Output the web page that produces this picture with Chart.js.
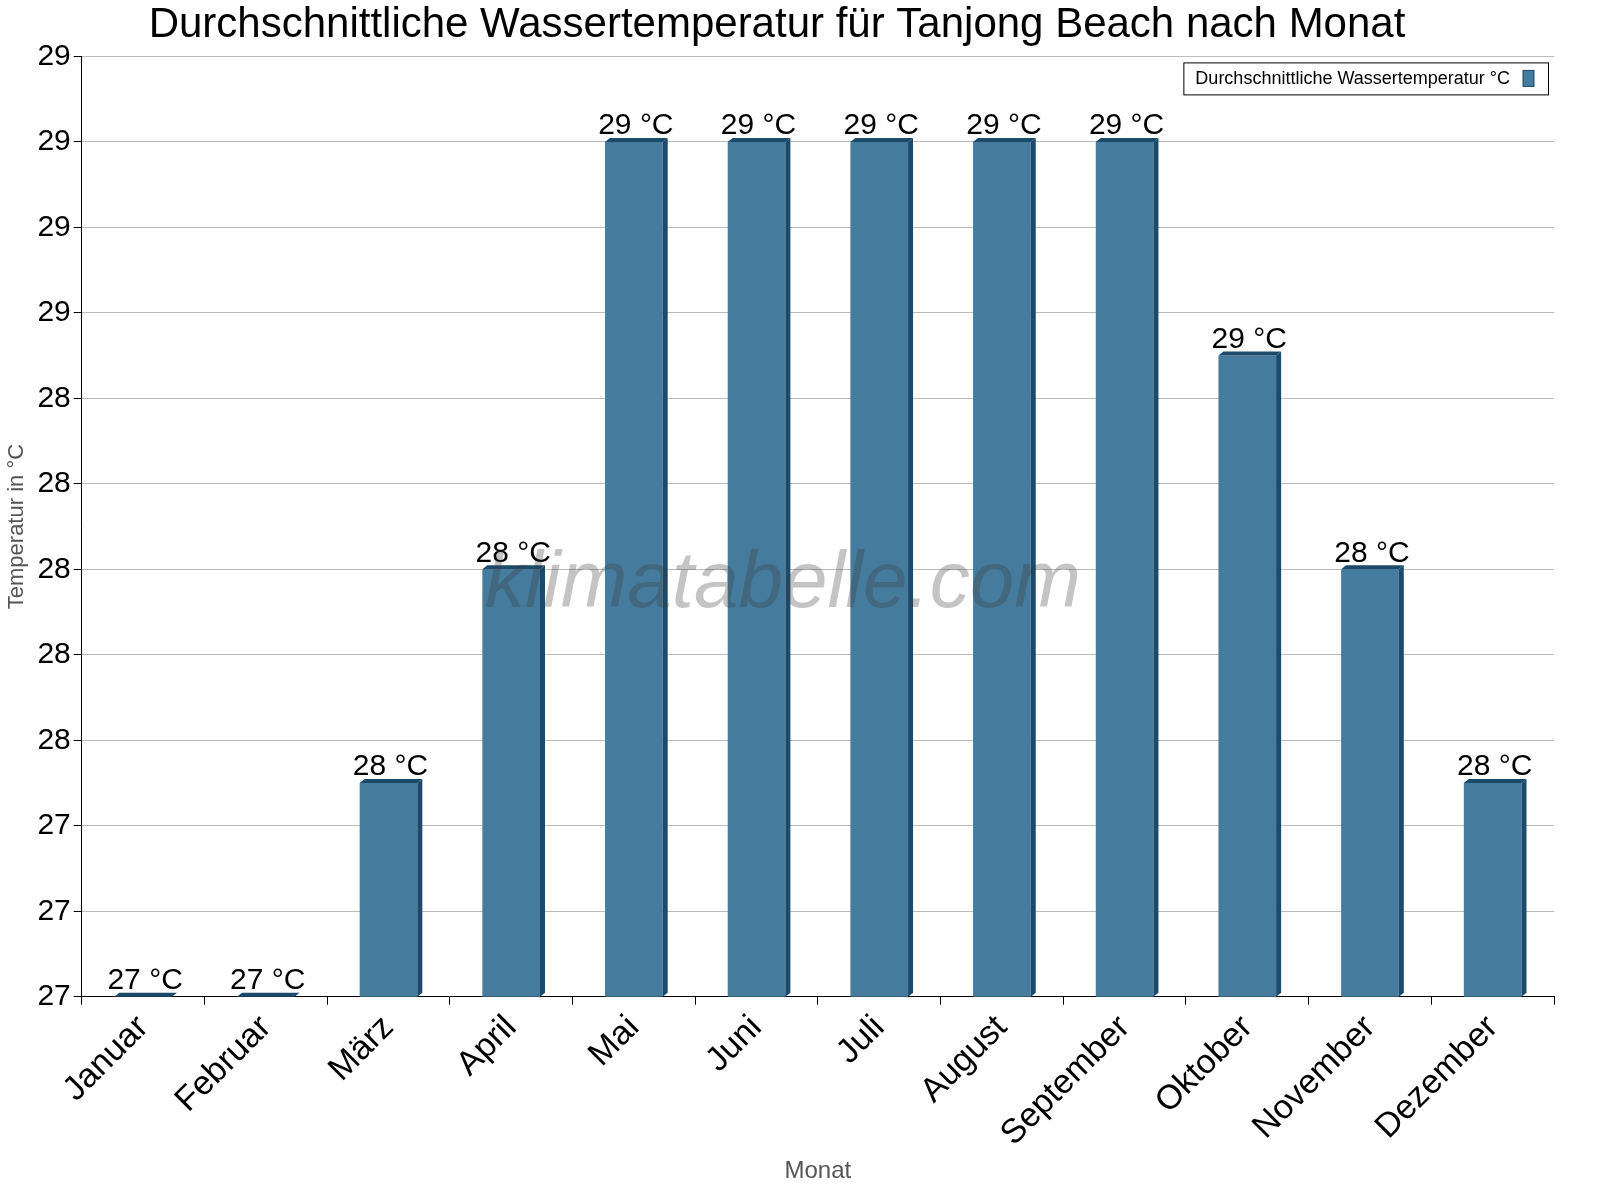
<!DOCTYPE html>
<html><head><meta charset="utf-8">
<script src="https://cdn.jsdelivr.net/npm/chart.js@4/dist/chart.umd.min.js"></script>
<style>html,body{margin:0;padding:0;background:#fff}#w{width:1600px;height:1200px;position:relative}</style>
</head><body><div id="w"><canvas id="c" width="1600" height="1200"></canvas></div>
<script>
const months = ["Januar","Februar","März","April","Mai","Juni","Juli","August","September","Oktober","November","Dezember"];
const waterTemp = [27.0,27.0,27.5,28.0,29.0,29.0,29.0,29.0,29.0,28.5,28.0,27.5];
const seriesName = "Durchschnittliche Wassertemperatur °C";
const F = 'Arial, "Liberation Sans"';

const deco = {
  id:'deco',
  afterDatasetsDraw(chart){
    const ctx=chart.ctx, meta=chart.getDatasetMeta(0), a=chart.chartArea;
    const bot=chart.scales.y.getPixelForValue(27);
    ctx.save();
    meta.data.forEach((b,i)=>{
      const half=b.width/2, l=b.x-half, r=b.x+half, t=b.y;
      ctx.fillStyle='#1b4a6b';
      ctx.beginPath();ctx.moveTo(r,t);ctx.lineTo(r+5,t-4);ctx.lineTo(r+5,bot-4);ctx.lineTo(r,bot);ctx.closePath();ctx.fill();
      ctx.beginPath();ctx.moveTo(l,t);ctx.lineTo(l+5,t-4);ctx.lineTo(r+5,t-4);ctx.lineTo(r,t);ctx.closePath();ctx.fill();
      ctx.fillStyle='#000';ctx.font='30px '+F;ctx.textAlign='center';ctx.textBaseline='bottom';
      ctx.fillText(Math.round(waterTemp[i])+' °C',b.x+2,t-1);
    });
    ctx.font='italic 80px '+F;ctx.fillStyle='rgba(60,60,60,0.3)';ctx.textAlign='center';ctx.textBaseline='middle';
    ctx.fillText('klimatabelle.com',783,585);
    ctx.restore();
  }
};

new Chart(document.getElementById('c'),{
  type:'bar',
  data:{labels:months,datasets:[{label:seriesName,data:waterTemp,backgroundColor:'#457b9d',borderWidth:0,barPercentage:0.47,categoryPercentage:1}]},
  options:{
    responsive:false,animation:false,
    layout:{padding:{top:0,right:46,left:0,bottom:10}},
    plugins:{
      title:{display:true,text:'Durchschnittliche Wassertemperatur für Tanjong Beach nach Monat',color:'#000',font:{size:42,weight:'normal',family:F},padding:{top:0,bottom:6}},
      legend:{display:false},
      tooltip:{enabled:false}
    },
    scales:{
      x:{grid:{display:true,drawOnChartArea:false,tickColor:'#000',offset:true},border:{color:'#000'},ticks:{color:'#000',font:{size:34,family:F},maxRotation:45,minRotation:45},
         title:{display:true,text:'Monat',color:'#555',font:{size:24,family:F},padding:{top:0}}},
      y:{min:27,max:29.2,border:{color:'#000'},grid:{color:'#bbb',tickColor:'#000',tickLength:8},
         ticks:{stepSize:0.2,color:'#000',font:{size:30,family:F},callback:v=>Math.round(v)},
         title:{display:true,text:'Temperatur in °C',color:'#555',font:{size:22,family:F}}}
    }
  },
  plugins:[deco,{
    id:'dashgrid',
    beforeDraw(chart){ chart.options.scales.y.grid.borderDash=[2,4]; chart.scales.y.options.border.dash=[]; chart.scales.y.options.grid.dash=[3,5]; }
  },{
    id:'legendbox',
    afterDraw(chart){
      const ctx=chart.ctx,a=chart.chartArea;
      ctx.save();
      ctx.font='18px '+F;
      const tw=ctx.measureText(seriesName).width;
      const w=tw+50,h=32,x=a.right-6-w,y=a.top+6;
      ctx.fillStyle='#fff';ctx.fillRect(x,y,w,h);ctx.strokeStyle='#000';ctx.lineWidth=1;ctx.strokeRect(x+0.5,y+0.5,w,h);
      ctx.fillStyle='#000';ctx.textBaseline='middle';ctx.fillText(seriesName,x+12,y+h/2+1);
      ctx.fillStyle='#457b9d';ctx.fillRect(x+w-25,y+8,11,16);ctx.strokeStyle='#1b4a6b';ctx.strokeRect(x+w-25,y+8,11,16);
      ctx.restore();
    }
  }]
});
</script></body></html>
